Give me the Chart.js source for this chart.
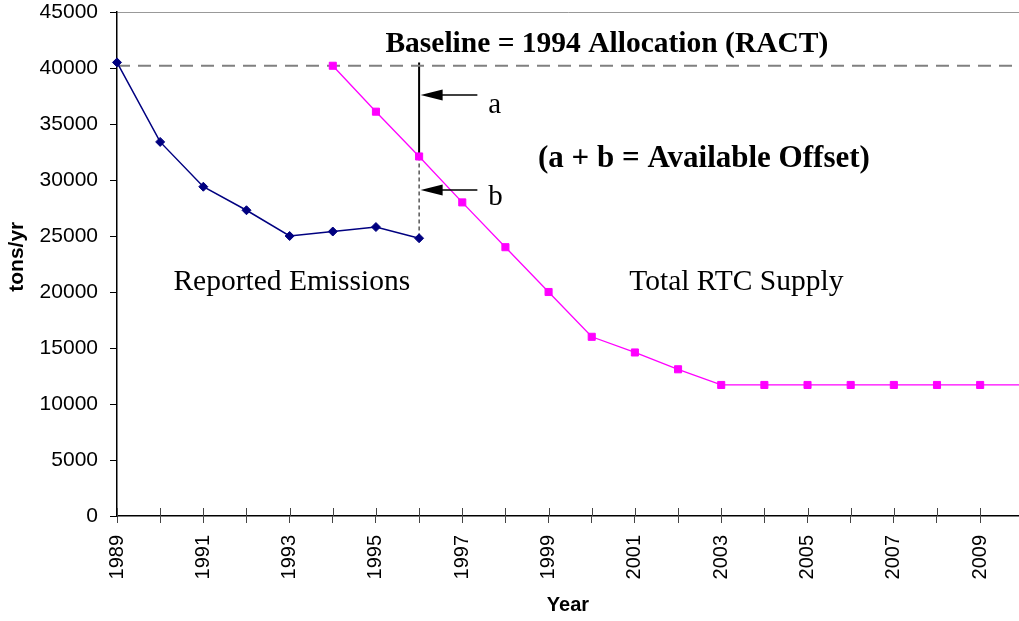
<!DOCTYPE html>
<html>
<head>
<meta charset="utf-8">
<script src="https://cdn.jsdelivr.net/npm/chart.js@4.4.1/dist/chart.umd.min.js"></script>
<style>
  html, body { margin: 0; padding: 0; background: #fff; overflow: hidden; }
</style>
</head>
<body>
<canvas id="chart" width="1025" height="621"></canvas>
<script>
// data
const years = [1989, 1990, 1991, 1992, 1993, 1994, 1995, 1996, 1997, 1998, 1999,
               2000, 2001, 2002, 2003, 2004, 2005, 2006, 2007, 2008, 2009, 2010];
const emissionYears = years.slice(0, 8);          // 1989 - 1996
const emissions = [40500, 33400, 29400, 27300, 25000, 25400, 25800, 24800];
const supplyYears = years.slice(5);               // 1994 - 2010
const supply = [40200, 36100, 32100, 28000, 24000, 20000, 16000, 14600, 13100,
                11700, 11700, 11700, 11700, 11700, 11700, 11700, 11700];
const baseline = 40200;
const offsetYear = 1996;
const offsetTop = 40500;
const yTicks = [0, 5000, 10000, 15000, 20000, 25000, 30000, 35000, 40000, 45000];
const xTicks = years.slice(0, 21);                // a tick every year, label every other year

const supplyAtOffset = supply[supplyYears.indexOf(offsetYear)];
const emissionAtOffset = emissions[emissionYears.indexOf(offsetYear)];

const serif = '"Liberation Serif", "Times New Roman", serif';
const sans = '"Liberation Sans", Arial, sans-serif';

// text and arrows placed in data units
const notes = [
  { text: 'Baseline = 1994 Allocation (RACT)', x: 2000.35, y: 41400, bold: true, size: 29.5 },
  { text: '(a + b = Available Offset)', x: 2002.6, y: 31200, bold: true, size: 31 },
  { text: 'Reported Emissions', x: 1993.05, y: 20200, bold: false, size: 29.5 },
  { text: 'Total RTC Supply', x: 2003.35, y: 20200, bold: false, size: 29.5 },
  { text: 'a', x: 1997.6, y: 36000, bold: false, size: 29, align: 'left' },
  { text: 'b', x: 1997.6, y: 27800, bold: false, size: 29, align: 'left' }
];
const arrows = [
  { y: 37600, tail: 1997.35 },
  { y: 29100, tail: 1997.35 }
];

const notesPlugin = {
  id: 'notes',
  afterDatasetsDraw(chart) {
    const { ctx, scales: { x, y }, chartArea } = chart;
    ctx.save();
    // inner half of the x tick marks
    ctx.strokeStyle = '#444';
    ctx.lineWidth = 1;
    xTicks.forEach(v => {
      const px = Math.round(x.getPixelForValue(v)) + 0.5;
      ctx.beginPath();
      ctx.moveTo(px, chartArea.bottom);
      ctx.lineTo(px, chartArea.bottom - 8);
      ctx.stroke();
    });
    // arrows pointing at the offset line
    ctx.strokeStyle = '#000';
    ctx.fillStyle = '#000';
    ctx.lineWidth = 1.5;
    arrows.forEach(a => {
      const tip = x.getPixelForValue(offsetYear) + 1.5;
      const tail = x.getPixelForValue(a.tail);
      const py = y.getPixelForValue(a.y);
      ctx.beginPath();
      ctx.moveTo(tail, py);
      ctx.lineTo(tip + 20, py);
      ctx.stroke();
      ctx.beginPath();
      ctx.moveTo(tip, py);
      ctx.lineTo(tip + 22, py - 5.5);
      ctx.lineTo(tip + 22, py + 5.5);
      ctx.closePath();
      ctx.fill();
    });
    // labels
    ctx.textBaseline = 'alphabetic';
    notes.forEach(n => {
      ctx.font = (n.bold ? 'bold ' : '') + n.size + 'px ' + serif;
      ctx.textAlign = n.align || 'center';
      ctx.fillText(n.text, x.getPixelForValue(n.x), y.getPixelForValue(n.y));
    });
    // y axis title
    ctx.translate(chartArea.left - 100, y.getPixelForValue(23150));
    ctx.rotate(-Math.PI / 2);
    ctx.font = 'bold 21px ' + sans;
    ctx.textAlign = 'center';
    ctx.textBaseline = 'middle';
    ctx.fillText('tons/yr', 0, 0);
    ctx.restore();
  }
};

new Chart(document.getElementById('chart'), {
  type: 'line',
  data: {
    datasets: [
      {
        label: 'Reported Emissions',
        data: emissionYears.map((yr, i) => ({ x: yr, y: emissions[i] })),
        borderColor: '#000080',
        backgroundColor: '#000080',
        borderWidth: 1.5,
        pointStyle: 'rectRot',
        pointRadius: 4.5,
        pointBorderWidth: 1,
        tension: 0,
        clip: false
      },
      {
        label: 'Total RTC Supply',
        data: supplyYears.map((yr, i) => ({ x: yr, y: supply[i] })),
        borderColor: '#FF00FF',
        backgroundColor: '#FF00FF',
        borderWidth: 1.3,
        pointStyle: 'rect',
        pointRadius: 5,
        pointBorderWidth: 1,
        tension: 0
      },
      {
        label: 'Baseline',
        data: [{ x: years[0], y: baseline }, { x: years[years.length - 1], y: baseline }],
        borderColor: '#808080',
        borderWidth: 2,
        borderDash: [13, 8],
        pointRadius: 0
      },
      {
        label: 'a',
        data: [{ x: offsetYear, y: offsetTop }, { x: offsetYear, y: supplyAtOffset }],
        borderColor: '#000',
        borderWidth: 2,
        pointRadius: 0
      },
      {
        label: 'b',
        data: [{ x: offsetYear, y: supplyAtOffset }, { x: offsetYear, y: emissionAtOffset }],
        borderColor: '#000',
        borderWidth: 1,
        borderDash: [4, 3],
        pointRadius: 0
      }
    ]
  },
  options: {
    responsive: false,
    animation: false,
    devicePixelRatio: 1,
    layout: { padding: { top: 12, right: 0, bottom: 0, left: 0 } },
    plugins: {
      legend: { display: false },
      tooltip: { enabled: false }
    },
    scales: {
      x: {
        type: 'linear',
        min: 1989,
        max: 2009.9,
        afterBuildTicks: scale => { scale.ticks = xTicks.map(v => ({ value: v })); },
        afterFit: scale => {
          scale.height = 105;
          scale.paddingLeft = 0;
          scale.paddingRight = 0;
        },
        ticks: {
          autoSkip: false,
          maxRotation: 90,
          minRotation: 90,
          padding: 12,
          color: '#000',
          font: { family: sans, size: 20 },
          callback: v => (v % 2 === 1 ? String(v) : '')
        },
        grid: { drawOnChartArea: false, tickLength: 7, color: '#444' },
        border: { display: true, color: '#000', width: 1.5 },
        title: {
          display: true,
          text: 'Year',
          color: '#000',
          font: { family: sans, size: 20, weight: 'bold' }
        }
      },
      y: {
        min: 0,
        max: 45000,
        afterBuildTicks: scale => { scale.ticks = yTicks.map(v => ({ value: v })); },
        afterFit: scale => {
          scale.width = 117;
          scale.paddingTop = 0;
          scale.paddingBottom = 0;
        },
        ticks: {
          padding: 12,
          color: '#000',
          font: { family: sans, size: 21 },
          callback: v => String(v)
        },
        grid: {
          drawOnChartArea: true,
          tickLength: 7,
          tickColor: '#000',
          color: c => (c.tick && c.tick.value === 45000 ? '#999' : 'rgba(0,0,0,0)')
        },
        border: { display: true, color: '#000', width: 1.5 },
        title: { display: false }
      }
    }
  },
  plugins: [notesPlugin]
});
</script>
</body>
</html>
